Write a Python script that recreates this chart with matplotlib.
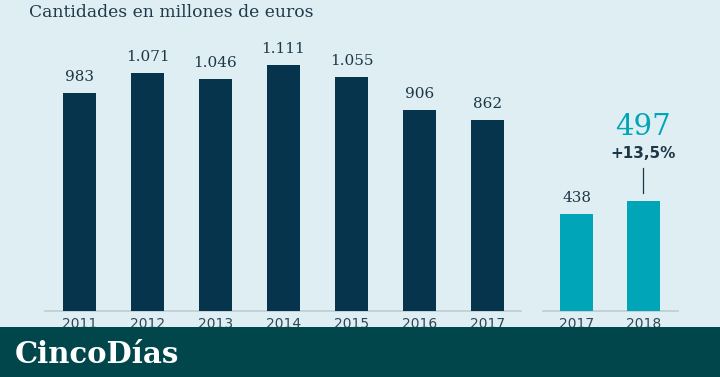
import matplotlib
matplotlib.use("Agg")
import matplotlib.pyplot as plt
from matplotlib.patches import Rectangle

years_hist = ["2011", "2012", "2013", "2014", "2015", "2016", "2017"]
values_hist = [983, 1071, 1046, 1111, 1055, 906, 862]
labels_hist = ["983", "1.071", "1.046", "1.111", "1.055", "906", "862"]
years_h1 = ["2017", "2018"]
values_h1 = [438, 497]
labels_h1 = ["438", "497"]
change_label = "+13,5%"
title = "Cantidades en millones de euros"
brand = "CincoDías"

BG = "#dfeef3"
NAVY = "#06344c"
TEAL = "#00a5b7"
FOOT = "#00464b"
TXT = "#1d3746"

W, H = 720, 377
fig = plt.figure(figsize=(W / 100, H / 100), dpi=100, facecolor=BG)

base_px = 311
scale = 0.2218  # px per unit
ax = fig.add_axes([0, (H - base_px) / H, 1, base_px / H])
ax.set_facecolor(BG)
ax.set_ylim(0, base_px / scale)
sp = 68.0
x0 = 79.5
ax.set_xlim(-x0 / sp, (W - x0) / sp)
for s in ax.spines.values():
    s.set_visible(False)
ax.set_xticks([])
ax.set_yticks([])

pos1 = list(range(len(years_hist)))
pos2 = [7.31, 8.29]
bw = 0.485

ax.bar(pos1, values_hist, width=bw, color=NAVY, zorder=2)
ax.bar(pos2, values_h1, width=bw, color=TEAL, zorder=2)

# baselines
ax.plot([-0.5, 6.5], [0, 0], color="#bfcdd3", lw=1.2, zorder=1, clip_on=False)
ax.plot([6.82, 8.8], [0, 0], color="#bfcdd3", lw=1.2, zorder=1, clip_on=False)

lab_off = 12 / scale
for p, v, l in zip(pos1, values_hist, labels_hist):
    ax.text(p, v + lab_off, l, ha="center", va="baseline", fontsize=11,
            family="DejaVu Serif", color=TXT)
ax.text(pos2[0], values_h1[0] + lab_off, labels_h1[0], ha="center", va="baseline",
        fontsize=11, family="DejaVu Serif", color=TXT)
# 2018 highlight
ax.plot([pos2[1], pos2[1]], [values_h1[1] + 8 / scale, values_h1[1] + 33 / scale],
        color="#1d3746", lw=0.9)
ax.text(pos2[1], values_h1[1] + 43 / scale, change_label, ha="center", va="baseline",
        fontsize=11, fontweight="bold", family="DejaVu Sans", color=TXT)
ax.text(pos2[1], values_h1[1] + 66 / scale, labels_h1[1], ha="center", va="baseline",
        fontsize=21, family="DejaVu Serif", color=TEAL)

# year labels
for p, y in zip(pos1 + pos2, years_hist + years_h1):
    ax.text(p, -17 / scale, y, ha="center", va="baseline", fontsize=10,
            family="DejaVu Sans", color="#2b4656", clip_on=False)

fig.text(29 / W, 1 - 17 / H, title, ha="left", va="baseline", fontsize=12.3,
         family="DejaVu Serif", color="#1f3a4a")

# footer band
fig.patches.append(Rectangle((0, 0), 1, 50 / H, transform=fig.transFigure,
                             facecolor=FOOT, edgecolor="none", zorder=10))
fig.text(15 / W, 1 - 363 / H, brand, ha="left", va="baseline", fontsize=21,
         fontweight="bold", family="DejaVu Serif", color="white", zorder=11)

fig.savefig("out.png", dpi=100, facecolor=BG)
